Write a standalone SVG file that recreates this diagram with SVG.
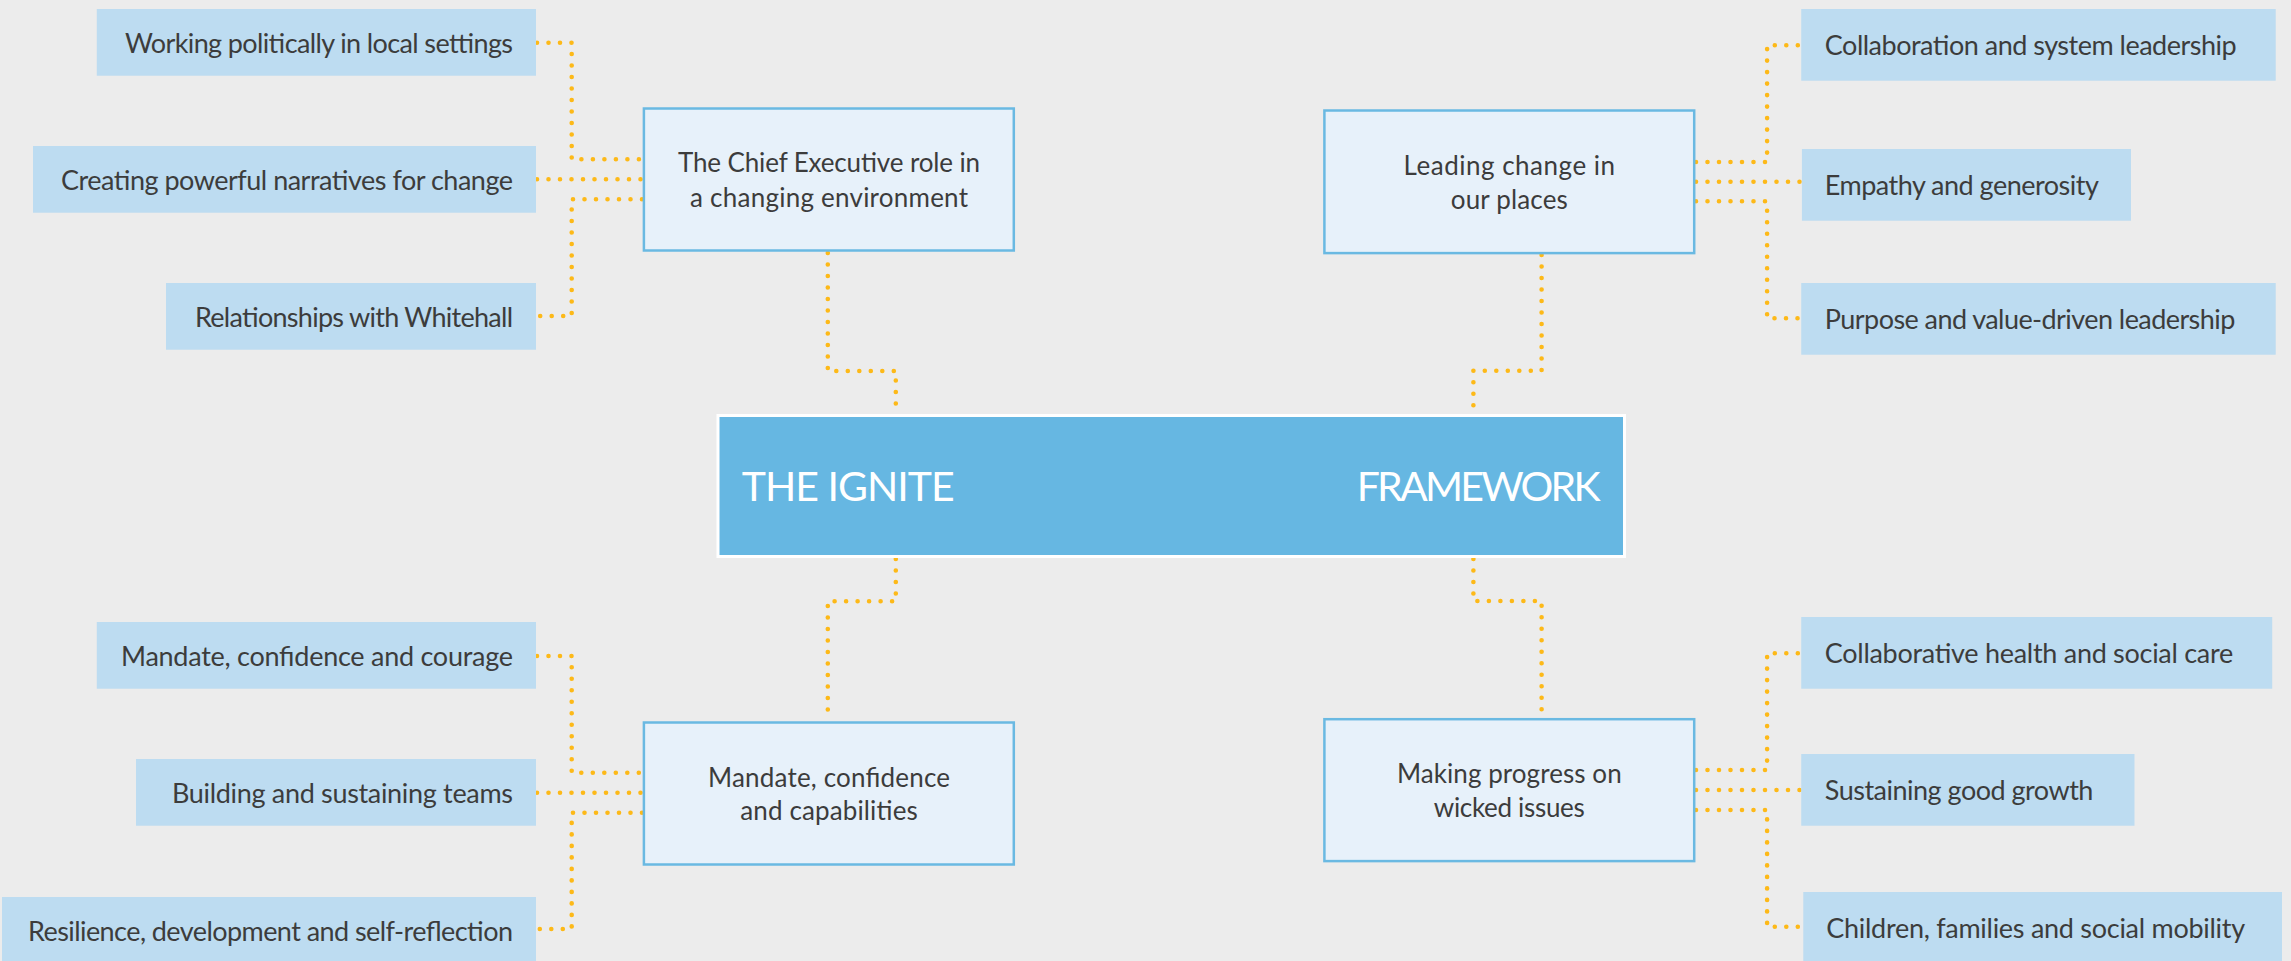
<svg xmlns="http://www.w3.org/2000/svg" width="2291" height="961" viewBox="0 0 2291 961">
<style>
.leaf{fill:#BDDCF1;}
.node{fill:#E7F1FA;stroke:#6AB9E2;stroke-width:2.5;}
.lt{font-family:Lato,"Open Sans","Liberation Sans",sans-serif;font-size:27px;fill:#3C3C3C;}
.nt{font-family:Lato,"Open Sans","Liberation Sans",sans-serif;font-size:26px;fill:#3C3C3C;text-anchor:middle;}
.ct{font-family:Lato,"Open Sans","Liberation Sans",sans-serif;font-size:41px;fill:#FFFFFF;}
.dots{fill:none;stroke:#FDB918;stroke-width:4.6;stroke-linecap:round;stroke-dasharray:0 11.5;}
</style>
<rect x="0" y="0" width="2291" height="961" fill="#ECECEC"/>
<g id="connectors">
<path class="dots" d="M537,42.7 H571.7 V159.3 H642"/>
<path class="dots" d="M537,179.3 H642"/>
<path class="dots" d="M642,199.3 H571.7 V316 H537"/>
<path class="dots" d="M827.8,253 V371 H895.8 V414"/>
<path class="dots" d="M1696,162 H1767.1 V45.3 H1800.5"/>
<path class="dots" d="M1696,181.7 H1800.5"/>
<path class="dots" d="M1696,201.3 H1767.1 V318.3 H1800.5"/>
<path class="dots" d="M1541.6,255 V370.7 H1473.4 V414"/>
<path class="dots" d="M895.8,559 V601.3 H827.8 V720.5"/>
<path class="dots" d="M537,656 H571.7 V772.7 H642"/>
<path class="dots" d="M537,792.7 H642"/>
<path class="dots" d="M642,812.7 H571.7 V929 H537"/>
<path class="dots" d="M1473.4,559 V601 H1541.6 V717"/>
<path class="dots" d="M1696,770 H1767.1 V653.3 H1800.5"/>
<path class="dots" d="M1696,790 H1800.5"/>
<path class="dots" d="M1696,810 H1767.1 V926.7 H1802.5"/>
</g>
<g id="center">
<rect x="718" y="415.5" width="906.5" height="141" fill="#66B7E2" stroke="#FFFFFF" stroke-width="3"/>
<text class="ct" x="741.7" y="501" textLength="213">THE IGNITE</text>
<text class="ct" x="1356.7" y="501" textLength="244">FRAMEWORK</text>
</g>
<g id="chief">
<rect class="node" x="643.9" y="108.5" width="369.9" height="142"/>
<text class="nt" x="829" y="172.3" textLength="302">The Chief Executive role in</text>
<text class="nt" x="829" y="206.7" textLength="278">a changing environment</text>
</g>
<g id="leading">
<rect class="node" x="1324.4" y="110.5" width="369.8" height="142.6"/>
<text class="nt" x="1509.3" y="174.6" textLength="211.5">Leading change in</text>
<text class="nt" x="1509.3" y="209" textLength="117">our places</text>
</g>
<g id="mandate">
<rect class="node" x="643.9" y="722.5" width="369.9" height="142"/>
<text class="nt" x="829" y="786.7" textLength="242">Mandate, confidence</text>
<text class="nt" x="829" y="820" textLength="177.5">and capabilities</text>
</g>
<g id="making">
<rect class="node" x="1324.4" y="719.2" width="369.8" height="141.9"/>
<text class="nt" x="1509.3" y="783" textLength="224.7">Making progress on</text>
<text class="nt" x="1509.3" y="816.7" textLength="151">wicked issues</text>
</g>
<g id="leaf-working">
<rect class="leaf" x="96.8" y="9" width="439.2" height="66.7"/>
<text class="lt" x="513" y="53.3" text-anchor="end" textLength="388">Working politically in local settings</text>
</g>
<g id="leaf-creating">
<rect class="leaf" x="33" y="146" width="503" height="66.7"/>
<text class="lt" x="513" y="190.3" text-anchor="end" textLength="452">Creating powerful narratives for change</text>
</g>
<g id="leaf-relationships">
<rect class="leaf" x="166" y="283" width="370" height="66.7"/>
<text class="lt" x="513" y="327.3" text-anchor="end" textLength="318">Relationships with Whitehall</text>
</g>
<g id="leaf-courage">
<rect class="leaf" x="96.8" y="622" width="439.2" height="66.7"/>
<text class="lt" x="513" y="666.3" text-anchor="end" textLength="392">Mandate, confidence and courage</text>
</g>
<g id="leaf-building">
<rect class="leaf" x="136" y="759" width="400" height="66.7"/>
<text class="lt" x="513" y="803.3" text-anchor="end" textLength="341">Building and sustaining teams</text>
</g>
<g id="leaf-resilience">
<rect class="leaf" x="2" y="897" width="534" height="66.7"/>
<text class="lt" x="513" y="941.3" text-anchor="end" textLength="485">Resilience, development and self-reflection</text>
</g>
<g id="leaf-collaboration">
<rect class="leaf" x="1801.2" y="9" width="474.5" height="71.7"/>
<text class="lt" x="1824.8" y="55.2" textLength="411.8">Collaboration and system leadership</text>
</g>
<g id="leaf-empathy">
<rect class="leaf" x="1801.9" y="149" width="329.1" height="71.7"/>
<text class="lt" x="1824.8" y="195" textLength="274">Empathy and generosity</text>
</g>
<g id="leaf-purpose">
<rect class="leaf" x="1801.2" y="283" width="474.5" height="71.7"/>
<text class="lt" x="1824.8" y="329.2" textLength="410.5">Purpose and value-driven leadership</text>
</g>
<g id="leaf-health">
<rect class="leaf" x="1801.2" y="617" width="471" height="71.7"/>
<text class="lt" x="1824.8" y="663.3" textLength="408.4">Collaborative health and social care</text>
</g>
<g id="leaf-growth">
<rect class="leaf" x="1801.2" y="754" width="333.3" height="71.7"/>
<text class="lt" x="1824.8" y="800.3" textLength="268.6">Sustaining good growth</text>
</g>
<g id="leaf-children">
<rect class="leaf" x="1803.3" y="892" width="478.7" height="71.7"/>
<text class="lt" x="1826.2" y="938.3" textLength="418.9">Children, families and social mobility</text>
</g>
</svg>
